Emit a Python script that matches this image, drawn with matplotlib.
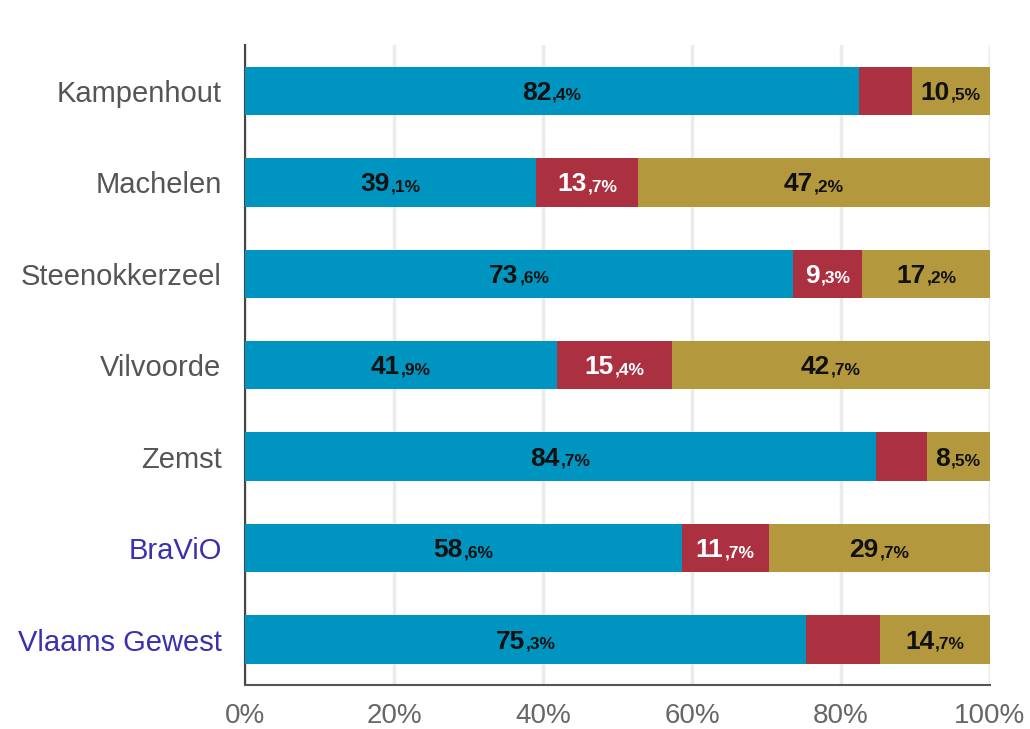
import matplotlib
matplotlib.use("Agg")
import matplotlib.pyplot as plt
import numpy as np

plt.rcParams["font.family"] = ["Liberation Sans", "DejaVu Sans"]

# ── data ──
categories = ["Kampenhout", "Machelen", "Steenokkerzeel", "Vilvoorde",
              "Zemst", "BraViO", "Vlaams Gewest"]
blue_vals = [82.4, 39.1, 73.6, 41.9, 84.7, 58.6, 75.3]
red_vals = [7.1, 13.7, 9.3, 15.4, 6.8, 11.7, 10.0]
gold_vals = [10.5, 47.2, 17.2, 42.7, 8.5, 29.7, 14.7]
red_shown = [False, True, True, True, False, True, False]
x_ticks = [0, 20, 40, 60, 80, 100]
x_ticklabels = ["0%", "20%", "40%", "60%", "80%", "100%"]

BLUE = "#0095c0"
RED = "#ac3140"
GOLD = "#b3983e"
BIG = 19
SMALL = 12.5


def split_label(v):
    s = f"{v:.1f}".replace(".", ",")
    whole, dec = s.split(",")
    return whole, "," + dec + "%"


def put_label(ax, fig, x, y, v, color):
    big, small = split_label(v)
    r = fig.canvas.get_renderer()
    tb = ax.text(0, 0, big, fontsize=BIG, fontweight="bold")
    ts = ax.text(0, 0, small, fontsize=SMALL, fontweight="bold")
    wb = tb.get_window_extent(r).width
    ws = ts.get_window_extent(r).width
    tb.remove()
    ts.remove()
    total = wb + ws + 1
    ax.annotate(big, xy=(x, y), xytext=(-total / 2, -9), textcoords="offset pixels",
                ha="left", va="baseline", fontsize=BIG, fontweight="bold", color=color)
    ax.annotate(small, xy=(x, y), xytext=(-total / 2 + wb + 1, -9), textcoords="offset pixels",
                ha="left", va="baseline", fontsize=SMALL, fontweight="bold", color=color)


def main():
    fig = plt.figure(figsize=(10.3, 7.29), dpi=100)
    ax = fig.add_axes([0.238, 0.060, 0.723, 0.878])

    y = np.arange(len(categories))
    blue = np.array(blue_vals)
    red = np.array(red_vals)
    gold = np.array(gold_vals)
    h = 0.53

    ax.barh(y, blue, height=h, color=BLUE, zorder=3)
    ax.barh(y, red, left=blue, height=h, color=RED, zorder=3)
    ax.barh(y, gold, left=blue + red, height=h, color=GOLD, zorder=3)

    ax.set_xlim(0, 100)
    ax.set_ylim(len(categories) - 0.5, -0.5)
    ax.set_yticks(y)
    ax.set_yticklabels(categories, fontsize=21)
    for i, lab in enumerate(ax.get_yticklabels()):
        lab.set_color("#3a30b0" if i >= 5 else "#555555")
    ax.set_xticks(x_ticks)
    ax.set_xticklabels(x_ticklabels, fontsize=20, color="#666666")
    ax.tick_params(length=0)
    ax.tick_params(axis="x", pad=13)
    ax.tick_params(axis="y", pad=17)

    ax.grid(axis="x", color="#ebebeb", linewidth=2.5, zorder=0)
    for s in ["top", "right"]:
        ax.spines[s].set_visible(False)
    ax.spines["left"].set_color("#444444")
    ax.spines["left"].set_linewidth(1.5)
    ax.spines["bottom"].set_color("#555555")
    ax.spines["bottom"].set_linewidth(1.5)

    for i in range(len(categories)):
        put_label(ax, fig, blue[i] / 2, i, blue[i], "#111111")
        if red_shown[i]:
            put_label(ax, fig, blue[i] + red[i] / 2, i, red[i], "white")
        put_label(ax, fig, blue[i] + red[i] + gold[i] / 2, i, gold[i], "#111111")

    fig.savefig("out.png", dpi=100, facecolor="white")
    plt.close(fig)


if __name__ == "__main__":
    main()
